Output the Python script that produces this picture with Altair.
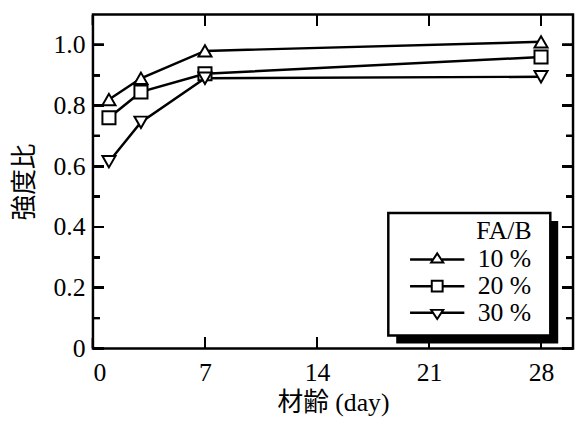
import altair as alt
import pandas as pd

# ---- data ----
days = [1, 3, 7, 28]
fa10 = [0.82, 0.89, 0.98, 1.01]
fa20 = [0.76, 0.845, 0.905, 0.96]
fa30 = [0.615, 0.745, 0.89, 0.895]
series = ["10 %", "20 %", "30 %"]
x_ticks = [0, 7, 14, 21, 28]
y_major = [0.0, 0.2, 0.4, 0.6, 0.8, 1.0]
y_minor = [0.1, 0.3, 0.5, 0.7, 0.9]
x_domain = [0, 30]
y_domain = [0, 1.1]

W, H = 486, 338
SERIF = "Liberation Serif"
MIXED = "Liberation Serif, Noto Sans CJK JP"

rows = []
for name, vals in zip(series, [fa10, fa20, fa30]):
    for d, v in zip(days, vals):
        rows.append({"day": d, "ratio": v, "fab": name})
df = pd.DataFrame(rows)

xscale = alt.Scale(domain=x_domain, nice=False, zero=False)
yscale = alt.Scale(domain=y_domain, nice=False, zero=False)

x_axis = alt.Axis(values=x_ticks, ticks=False, tickSize=0, domain=False, grid=False,
                  labelFont=SERIF, labelFontSize=26, labelColor="black", labelPadding=12,
                  title="材齢 (day)", titleFont=MIXED, titleFontSize=26,
                  titleFontWeight="normal", titleColor="black", titlePadding=4)
y_axis = alt.Axis(values=y_major, format=".1f",
                  labelExpr="datum.value == 0 ? '0' : datum.label",
                  ticks=False, tickSize=0, domain=False, grid=False,
                  labelFont=SERIF, labelFontSize=26, labelColor="black", labelPadding=8,
                  title="強度比", titleFont=MIXED, titleFontSize=26,
                  titleFontWeight="normal", titleColor="black", titlePadding=16)

X = alt.X("day:Q", scale=xscale, axis=x_axis)
Y = alt.Y("ratio:Q", scale=yscale, axis=y_axis)
base = alt.Chart(df).encode(x=X, y=Y)

lines = base.mark_line(color="black", strokeWidth=2.5).encode(detail="fab:N")
points = base.mark_point(fill="white", stroke="black", strokeWidth=2, opacity=1,
                         fillOpacity=1, size=175).encode(
    shape=alt.Shape("fab:N",
                    scale=alt.Scale(domain=series,
                                    range=["triangle-up", "square", "triangle-down"]),
                    legend=None)
)

# ---- legend box with drop shadow ----
one = pd.DataFrame({"k": [0]})
shadow = alt.Chart(one).mark_rect(color="black").encode(
    x=alt.value(307), x2=alt.value(471), y=alt.value(209), y2=alt.value(333))
box = alt.Chart(one).mark_rect(fill="white", stroke="black", strokeWidth=2.5).encode(
    x=alt.value(299), x2=alt.value(463), y=alt.value(201), y2=alt.value(325))

# legend symbols: line + hollow marker, built only from filled outlines
seg = ("M -2.29 -0.104 L -0.4 -0.104 L -0.4 0.104 L -2.29 0.104 Z "
       "M 0.4 -0.104 L 2.29 -0.104 L 2.29 0.104 L 0.4 0.104 Z ")
legend_paths = [
    seg + "M 0 -0.667 L 0.667 0.333 L -0.667 0.333 Z M 0 -0.367 L -0.356 0.166 L 0.356 0.166 Z",
    seg + "M -0.542 -0.542 L 0.542 -0.542 L 0.542 0.542 L -0.542 0.542 Z "
          "M -0.375 -0.375 L -0.375 0.375 L 0.375 0.375 L 0.375 -0.375 Z",
    seg + "M -0.667 -0.333 L 0.667 -0.333 L 0 0.667 Z M -0.356 -0.166 L 0 0.367 L 0.356 -0.166 Z",
]
leg = alt.Chart(df).transform_filter("false").mark_point(
    filled=True, color="black", strokeWidth=0, size=576, opacity=1).encode(
    shape=alt.Shape("fab:N",
                    scale=alt.Scale(domain=series, range=legend_paths),
                    legend=alt.Legend(orient="none", legendX=318, legendY=206,
                                      title="FA/B", titleFont=SERIF, titleFontSize=26,
                                      titleFontWeight="normal", titleColor="black",
                                      titleAnchor="end", titlePadding=3,
                                      labelFont=SERIF, labelFontSize=26, labelColor="black",
                                      symbolSize=576, symbolStrokeWidth=0,
                                      symbolFillColor="black", symbolOpacity=1,
                                      symbolOffset=17.5, labelOffset=28,
                                      rowPadding=1, padding=0, zindex=1))
)

# ---- inward ticks on all four sides (drawn last, as filled thin rectangles) ----
def tick_rects(field, values, other, other_value, path, length):
    arr = "[" + ", ".join(str(v) for v in values) + "]"
    return (alt.Chart(df)
            .transform_calculate(**{field: arr})
            .transform_calculate(**{other: str(other_value)})
            .transform_flatten([field])
            .mark_point(shape=path, size=(2 * length) ** 2, filled=True,
                        color="black", strokeWidth=0, opacity=1)
            .encode(x=X, y=Y))

# filled rectangle paths (unit = tick length), thickness about 2 px
def hpath(sign, length):
    t = 1.0 / length
    return f"M 0 {-t} L {sign} {-t} L {sign} {t} L 0 {t} Z"

def vpath(sign, length):
    t = 1.0 / length
    return f"M {-t} 0 L {t} 0 L {t} {sign} L {-t} {sign} Z"

ticks = [
    tick_rects("ratio", y_major, "day", x_domain[0], hpath(1, 11), 11),
    tick_rects("ratio", y_minor, "day", x_domain[0], hpath(1, 7), 7),
    tick_rects("ratio", y_major, "day", x_domain[1], hpath(-1, 11), 11),
    tick_rects("ratio", y_minor, "day", x_domain[1], hpath(-1, 7), 7),
    tick_rects("day", x_ticks, "ratio", y_domain[0], vpath(-1, 11), 11),
    tick_rects("day", x_ticks, "ratio", y_domain[1], vpath(1, 11), 11),
]

chart = alt.layer(lines, points, shadow, box, leg, *ticks).resolve_scale(
    shape="independent"
).properties(
    width=W, height=H, autosize="none",
    padding={"left": 86, "top": 4, "right": 2, "bottom": 80},
).configure(font=SERIF).configure_view(stroke="black", strokeWidth=2.5)

chart.save("out.html", embed_options={"renderer": "svg", "actions": False})
